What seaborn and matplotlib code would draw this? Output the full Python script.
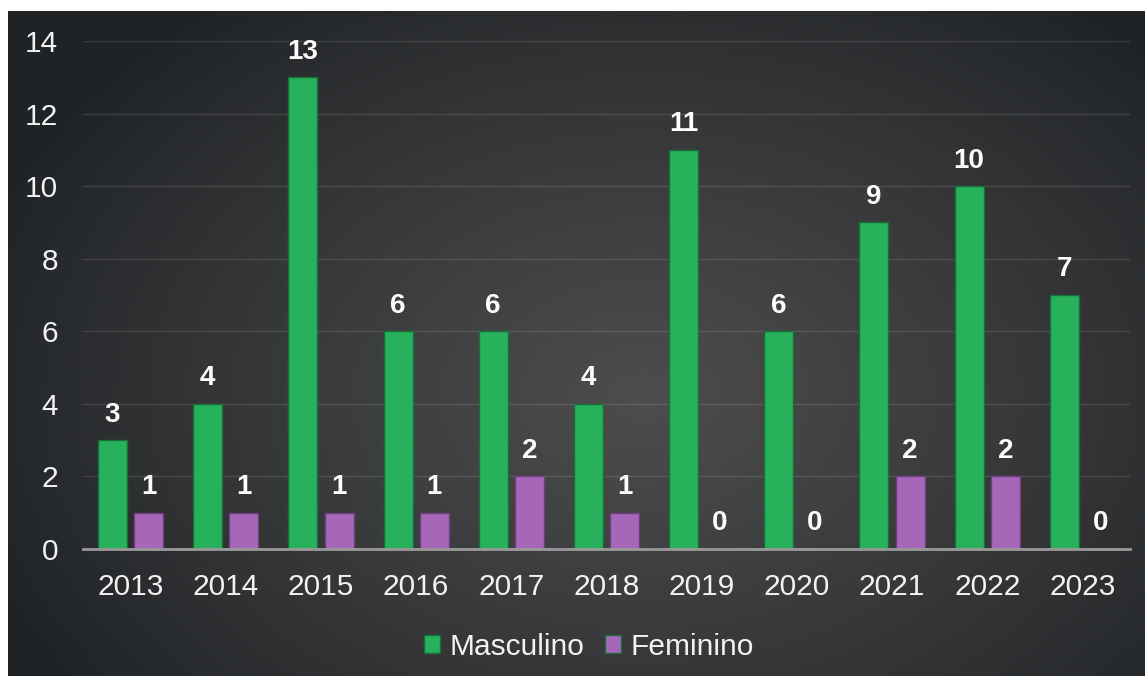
import numpy as np
import pandas as pd
import matplotlib
matplotlib.use("Agg")
import matplotlib.pyplot as plt
import seaborn as sns

anos = ["2013", "2014", "2015", "2016", "2017", "2018", "2019", "2020", "2021", "2022", "2023"]
masculino = [3, 4, 13, 6, 6, 4, 11, 6, 9, 10, 7]
feminino = [1, 1, 1, 1, 2, 1, 0, 0, 2, 2, 0]
series = ["Masculino", "Feminino"]
cores = {"Masculino": "#27b15b", "Feminino": "#a767b9"}

df = pd.DataFrame({
    "Ano": anos * 2,
    "Sexo": [series[0]] * len(anos) + [series[1]] * len(anos),
    "Casos": masculino + feminino,
})

sns.set_theme(style="dark")
plt.rcParams["font.family"] = ["Liberation Sans", "DejaVu Sans"]

W, H = 1145, 676
fig = plt.figure(figsize=(W / 100, H / 100), dpi=100)
fig.patch.set_facecolor("white")

# dark gradient panel behind the chart
bg = fig.add_axes([8 / W, 0, 1 - 8 / W, (H - 11) / H], zorder=-1)
yy, xx = np.mgrid[0:1:300j, 0:1:500j]
r = np.sqrt(((xx - 0.56) / 0.62) ** 2 + ((yy - 0.42) / 0.75) ** 2)
t = np.clip(1 - r, 0, 1) ** 0.9
dark = np.array([0x20, 0x23, 0x26]) / 255
light = np.array([0x4d, 0x4d, 0x4d]) / 255
img = dark[None, None, :] + (light - dark)[None, None, :] * t[..., None]
bg.imshow(img, aspect="auto", extent=[0, 1, 0, 1], origin="lower")
bg.axis("off")

ax = fig.add_axes([83 / W, 1 - 549 / H, (1130 - 83) / W, (549 - 41) / H])
ax.set_facecolor("none")

sns.barplot(data=df, x="Ano", y="Casos", hue="Sexo", palette=cores,
            width=0.76, gap=0.2, ax=ax, saturation=1,
            edgecolor="#1a6e3a", linewidth=1)
for bar in ax.containers[1]:
    bar.set_edgecolor("#6e3f7c")

for cont in ax.containers:
    ax.bar_label(cont, fmt="%d", padding=9, color="white",
                 fontsize=20, fontweight="bold")

ax.set_ylim(0, 14)
ax.set_yticks(range(0, 15, 2))
ax.set_xlabel("")
ax.set_ylabel("")
ax.grid(axis="y", color="white", alpha=0.12, linewidth=1)
ax.grid(axis="x", visible=False)
ax.set_axisbelow(True)
for side in ["top", "right", "left"]:
    ax.spines[side].set_visible(False)
ax.spines["bottom"].set_color("#9a9a9a")
ax.spines["bottom"].set_linewidth(2)
ax.tick_params(axis="y", length=0, pad=18, labelsize=21.5, labelcolor="#f2f2f2")
ax.tick_params(axis="x", length=0, pad=17, labelsize=21.5, labelcolor="#f2f2f2")

ax.legend(loc="upper center", bbox_to_anchor=(0.483, -0.112), ncol=2,
          frameon=False, fontsize=21.5, labelcolor="#f2f2f2",
          handlelength=0.55, handleheight=0.55, handletextpad=0.3,
          columnspacing=0.7)

fig.savefig("out.png", dpi=100)
